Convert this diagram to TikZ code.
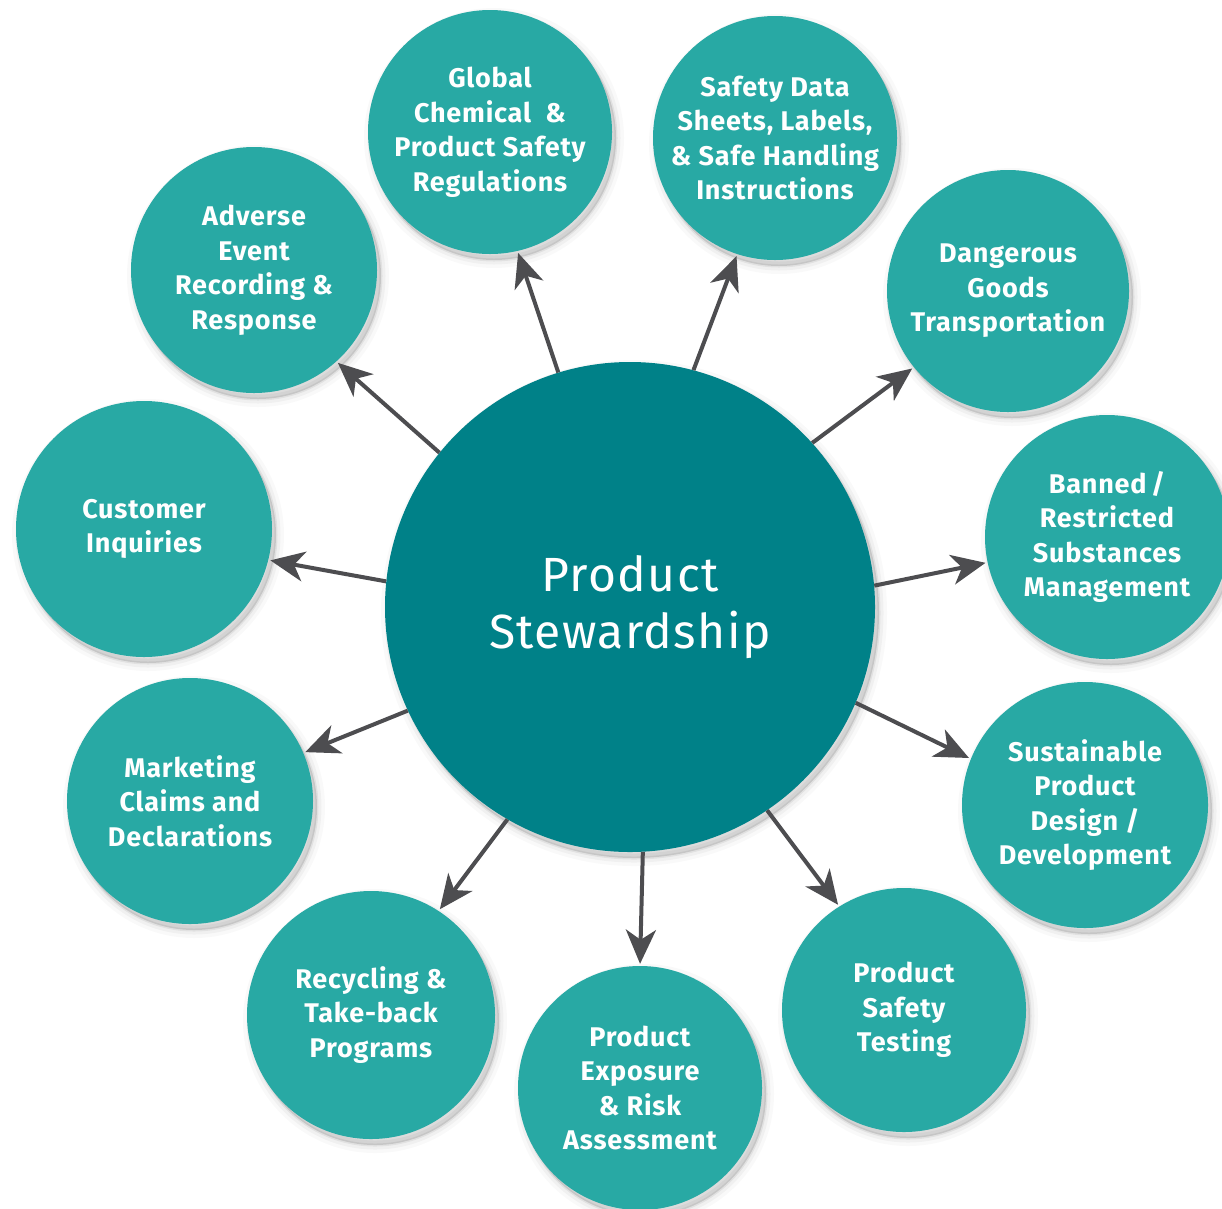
\documentclass[tikz,border=0pt]{standalone}
\usepackage{fontspec}
\setmainfont{Fira Sans}
\usetikzlibrary{arrows.meta}
\definecolor{outerteal}{RGB}{40,169,164}
\definecolor{innerteal}{RGB}{0,129,136}
\definecolor{arrowgray}{RGB}{77,77,80}
\tikzset{
  softshadow/.style={
    preaction={fill=black,draw=black,line width=16pt,opacity=0.025,transform canvas={shift={(4pt,-6pt)}}},
    preaction={fill=black,draw=black,line width=9pt,opacity=0.035,transform canvas={shift={(4pt,-6pt)}}},
    preaction={fill=black,draw=black,line width=3pt,opacity=0.06,transform canvas={shift={(4pt,-6pt)}}}},
  topic/.style={circle, fill=outerteal, text=white, inner sep=0pt, align=center,
    font=\bfseries\fontsize{27}{34.5}\selectfont\addfontfeature{LetterSpace=3}, softshadow},
  hub/.style={circle, fill=innerteal, text=white, inner sep=0pt, align=center,
    minimum size=490pt,
    font=\fontsize{48}{57}\selectfont\addfontfeature{LetterSpace=3}, softshadow},
  arr/.style={draw=arrowgray, line width=4pt, shorten >=2pt,
    -{Stealth[length=34pt,width=30pt,inset=10pt]}},
}
\begin{document}
\begin{tikzpicture}[x=1pt,y=-1pt]
\useasboundingbox[fill=white] (0,0) rectangle (1222,1208);

\node[hub] (c) at (630,607) {Product\\Stewardship};

\node[topic, minimum size=244pt] (n1) at (490,132) {Global\\Chemical\ \ \&\\Product Safety\\Regulations};
\node[topic, minimum size=244pt] (n2) at (775,138) {Safety Data\\Sheets, Labels,\\\& Safe Handling\\Instructions};
\node[topic, minimum size=242pt] (n3) at (1008,291) {Dangerous\\Goods\\Transportation};
\node[topic, minimum size=244pt] (n4) at (1107,537) {Banned\,/\\Restricted\\Substances\\Management};
\node[topic, minimum size=246pt] (n5) at (1085,805) {Sustainable\\Product\\Design /\\Development};
\node[topic, minimum size=244pt] (n6) at (904,1010) {Product\\Safety\\Testing};
\node[topic, minimum size=244pt] (n7) at (640,1088) {Product\\Exposure\\\& Risk\\Assessment};
\node[topic, minimum size=248pt] (n8) at (371,1015) {Recycling \&\\Take-back\\Programs};
\node[topic, minimum size=246pt] (n9) at (190,801) {Marketing\\Claims and\\Declarations};
\node[topic, minimum size=256pt] (n10) at (144,529) {Customer\\Inquiries};
\node[topic, minimum size=246pt] (n11) at (254,270) {Adverse\\Event\\Recording \&\\Response};

\draw[arr] (c.107) -- (n1.-77.4);
\draw[arr] (c.75.2) -- (n2.-108.9);
\draw[arr] (c.42.1) -- (n3.219.6);
\draw[arr] (c.5.5) -- (n4.192.9);
\draw[arr] (c.-23.3) -- (n5.158.1);
\draw[arr] (c.-56.1) -- (n6.122.1);
\draw[arr] (c.-87.7) -- (n7.90);
\draw[arr] (c.-120.4) -- (n8.57.3);
\draw[arr] (c.205.5) -- (n9.23);
\draw[arr] (c.174.8) -- (n10.-14.3);
\draw[arr] (c.141) -- (n11.-48.5);
\end{tikzpicture}
\end{document}
